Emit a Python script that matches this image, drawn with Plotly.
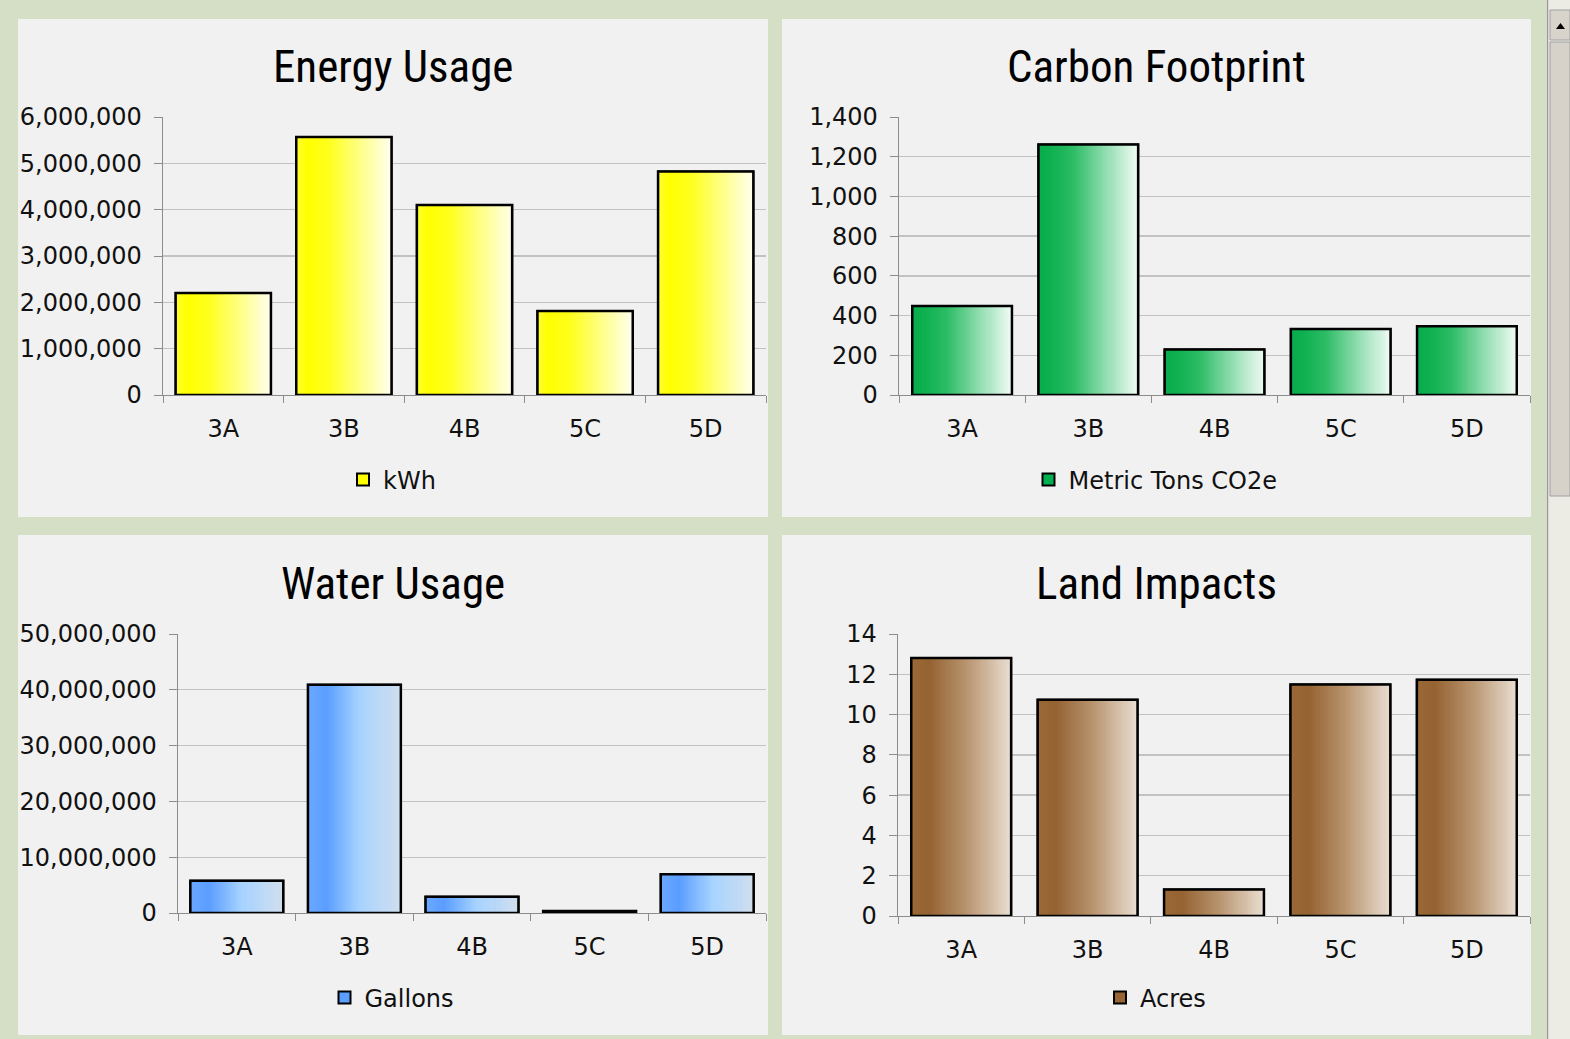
import plotly.graph_objects as go

# ---- data -------------------------------------------------------------
categories = ["3A", "3B", "4B", "5C", "5D"]
energy_kwh = [2200000, 5570000, 4100000, 1815000, 4825000]
carbon_tco2e = [448, 1261, 229, 333, 346]
water_gallons = [5770000, 40900000, 2920000, 360000, 6960000]
land_acres = [12.81, 10.73, 1.31, 11.49, 11.73]

W, H = 1570, 1039
BG_GREEN = "#D5DFC5"
PANEL = "#F1F1F1"
TITLE_FONT = "Liberation Sans Narrow, Roboto Condensed, Liberation Sans, Arial Narrow, sans-serif"
TEXT_FONT = "DejaVu Sans, Verdana, sans-serif"
TEXT_SIZE = 24
BAR_W = 0.79
N_SLICES = 48


def fx(px):
    return px / W


def fy(py):
    return 1 - py / H


def hex_to_rgb(h):
    h = h.lstrip("#")
    return tuple(int(h[i:i + 2], 16) for i in (0, 2, 4))


def gradient_color(stops, t):
    for (p0, c0), (p1, c1) in zip(stops, stops[1:]):
        if p0 <= t <= p1:
            a = 0 if p1 == p0 else (t - p0) / (p1 - p0)
            r0, g0, b0 = hex_to_rgb(c0)
            r1, g1, b1 = hex_to_rgb(c1)
            return "rgb(%d,%d,%d)" % (round(r0 + (r1 - r0) * a),
                                       round(g0 + (g1 - g0) * a),
                                       round(b0 + (b1 - b0) * a))
    return stops[-1][1]


# panel: title, series name, values, colour stops, axis settings, pixel box
panels = [
    dict(title="Energy Usage", name="kWh", values=energy_kwh, base="#FFFF00",
         stops=[(0, "#FFFF30"), (0.12, "#FFFF00"), (0.35, "#FFFF20"), (1, "#FFFFF0")],
         rmax=6000000, dtick=1000000, box=(163, 766, 117, 395),
         panel=(18, 768, 19, 517), title_y=67, legend_y=480),
    dict(title="Carbon Footprint", name="Metric Tons CO2e", values=carbon_tco2e, base="#00B050",
         stops=[(0, "#08AC4C"), (0.12, "#0EB04F"), (0.35, "#2DBC66"), (0.65, "#8ADBAB"), (1, "#F2FCF6")],
         rmax=1400, dtick=200, box=(899, 1530, 117, 395),
         panel=(782, 1531, 19, 517), title_y=67, legend_y=480),
    dict(title="Water Usage", name="Gallons", values=water_gallons, base="#5B9EFF",
         stops=[(0, "#6BA8FF"), (0.2, "#5B9EFF"), (0.55, "#A7D3FF"), (1, "#D2DFEE")],
         rmax=50000000, dtick=10000000, box=(178, 766, 634, 913),
         panel=(18, 768, 535, 1035), title_y=583, legend_y=998),
    dict(title="Land Impacts", name="Acres", values=land_acres, base="#976433",
         stops=[(0, "#9B6937"), (0.18, "#956332"), (0.55, "#B8946F"), (1, "#EADFD3")],
         rmax=14, dtick=2, box=(898, 1530, 634, 916),
         panel=(782, 1531, 535, 1035), title_y=583, legend_y=998),
]

fig = go.Figure()
shapes = []
annotations = []
layout_axes = {}

for k, p in enumerate(panels, start=1):
    xa = "x" if k == 1 else "x%d" % k
    ya = "y" if k == 1 else "y%d" % k
    lg = "legend" if k == 1 else "legend%d" % k

    # legend entry / base fill under the gradient slices
    fig.add_trace(go.Bar(
        x=categories, y=p["values"], name=p["name"], xaxis=xa, yaxis=ya,
        width=BAR_W, marker=dict(color=p["base"], line=dict(color="black", width=2)),
        legend=lg, showlegend=True, hoverinfo="skip"))

    # horizontal gradient: thin vertical slices of each bar
    step = BAR_W / N_SLICES
    for i in range(N_SLICES):
        t = (i + 0.5) / N_SLICES
        fig.add_trace(go.Bar(
            x=categories, y=p["values"], xaxis=xa, yaxis=ya,
            width=step * 1.3, offset=-BAR_W / 2 + i * step,
            marker=dict(color=gradient_color(p["stops"], t), line=dict(width=0)),
            showlegend=False, hoverinfo="skip"))

    # black outline on top
    fig.add_trace(go.Bar(
        x=categories, y=p["values"], xaxis=xa, yaxis=ya, width=BAR_W,
        marker=dict(color="rgba(0,0,0,0)", line=dict(color="black", width=2.5)),
        showlegend=False, hoverinfo="skip"))

    x0, x1, y0, y1 = p["box"]
    layout_axes["xaxis" if k == 1 else "xaxis%d" % k] = dict(
        domain=[fx(x0), fx(x1)], anchor=ya, type="category",
        showgrid=False, showline=True, linecolor="#8C8C8C", linewidth=1.3,
        ticks="outside", tickson="boundaries", ticklen=7, tickcolor="#8C8C8C",
        ticklabelstandoff=12, fixedrange=True,
        tickfont=dict(family=TEXT_FONT, size=TEXT_SIZE, color="#111111"))
    layout_axes["yaxis" if k == 1 else "yaxis%d" % k] = dict(
        domain=[fy(y1), fy(y0)], anchor=xa, range=[0, p["rmax"]],
        dtick=p["dtick"], tick0=0, tickformat=",d" if p["rmax"] > 100 else "d",
        showgrid=True, gridcolor="#C2C2C2", gridwidth=1.3,
        showline=True, linecolor="#8C8C8C", linewidth=1.3,
        ticks="outside", ticklen=8, tickcolor="#8C8C8C",
        ticklabelstandoff=7, zeroline=False, fixedrange=True,
        tickfont=dict(family=TEXT_FONT, size=TEXT_SIZE, color="#111111"))

    px0, px1, py0, py1 = p["panel"]
    shapes.append(dict(type="rect", xref="paper", yref="paper", layer="below",
                       x0=fx(px0), x1=fx(px1), y0=fy(py1), y1=fy(py0),
                       fillcolor=PANEL, line=dict(width=0)))

    annotations.append(dict(
        text=p["title"], xref="paper", yref="paper", showarrow=False,
        x=fx((px0 + px1) / 2), y=fy(p["title_y"]), xanchor="center", yanchor="middle",
        font=dict(family=TITLE_FONT, size=45, color="#000000")))

    layout_axes[lg] = dict(
        x=fx((px0 + px1) / 2 - 1), y=fy(p["legend_y"]), xanchor="center", yanchor="middle",
        orientation="h", bgcolor="rgba(0,0,0,0)", itemclick=False, itemdoubleclick=False,
        font=dict(family=TEXT_FONT, size=TEXT_SIZE, color="#111111"), itemwidth=30,
        tracegroupgap=0)

# window scrollbar at the right edge
shapes += [
    dict(type="rect", xref="paper", yref="paper", layer="below",
         x0=fx(1546), x1=1, y0=0, y1=1, fillcolor="#ECEBE4", line=dict(width=0)),
    dict(type="line", xref="paper", yref="paper", layer="below",
         x0=fx(1547.5), x1=fx(1547.5), y0=0, y1=1, line=dict(color="#9A9A9A", width=1.5)),
    dict(type="rect", xref="paper", yref="paper", layer="below",
         x0=fx(1550), x1=1, y0=fy(40), y1=fy(10), fillcolor="#D8D4CC",
         line=dict(color="#A0A0A0", width=1)),
    dict(type="path", xref="paper", yref="paper", layer="above",
         path="M %f %f L %f %f L %f %f Z" % (fx(1556), fy(29), fx(1565), fy(29), fx(1560.5), fy(23)),
         fillcolor="#000000", line=dict(width=0)),
    dict(type="rect", xref="paper", yref="paper", layer="below",
         x0=fx(1550), x1=1, y0=fy(496), y1=fy(42), fillcolor="#D6D2CA",
         line=dict(color="#A0A0A0", width=1)),
]

fig.update_layout(
    width=W, height=H, autosize=False,
    margin=dict(l=0, r=0, t=0, b=0, pad=0, autoexpand=False),
    paper_bgcolor=BG_GREEN, plot_bgcolor="#FFFFFF",
    barmode="overlay", bargap=0.21,
    shapes=shapes, annotations=annotations,
    hovermode=False,
    **layout_axes,
)

fig.write_html("out.html", config=dict(displayModeBar=False, staticPlot=True))
